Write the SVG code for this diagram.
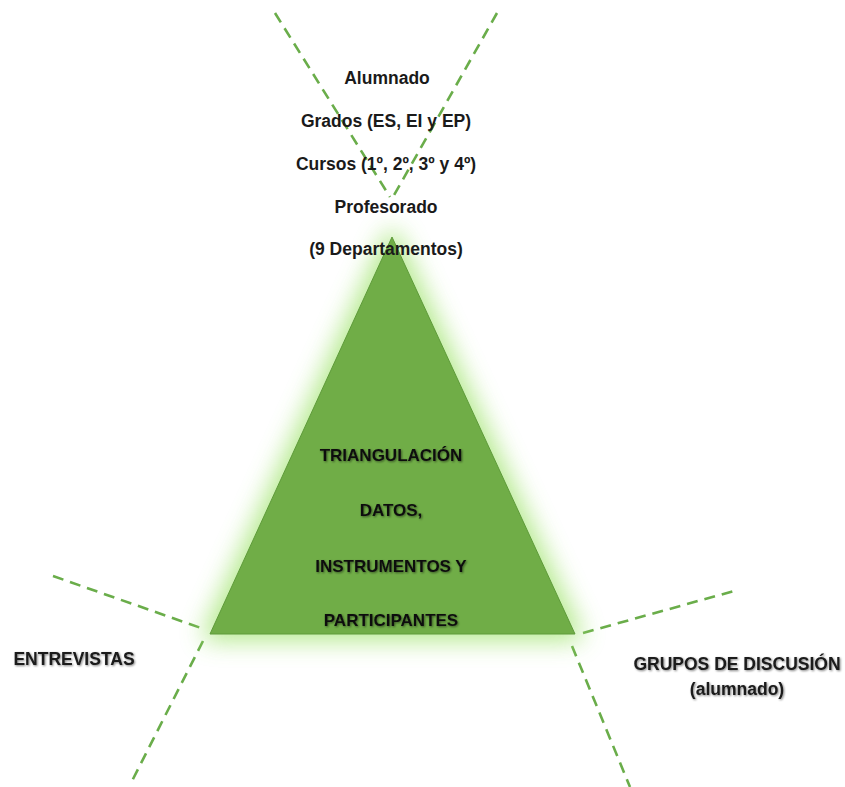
<svg xmlns="http://www.w3.org/2000/svg" width="845" height="787" viewBox="0 0 845 787">
<defs>
<filter id="glow" x="-30%" y="-30%" width="160%" height="160%">
<feGaussianBlur stdDeviation="12"/>
</filter>
<filter id="tshadow" x="-10%" y="-30%" width="120%" height="160%">
<feGaussianBlur in="SourceAlpha" stdDeviation="1.2" result="b"/>
<feOffset in="b" dx="1" dy="1" result="o"/>
<feComponentTransfer in="o" result="s"><feFuncA type="linear" slope="0.5"/></feComponentTransfer>
<feMerge><feMergeNode in="s"/><feMergeNode in="SourceGraphic"/></feMerge>
</filter>
</defs>
<style>
.dash{stroke:#6aad4a;stroke-width:2.6;stroke-dasharray:11 7;fill:none}
.t{font-family:"Liberation Sans",Arial,sans-serif;font-weight:bold;font-size:17.5px;fill:#1a1a1a;text-anchor:middle}
.tri{font-family:"Liberation Sans",Arial,sans-serif;font-weight:bold;font-size:17px;fill:#111;text-anchor:middle}
</style>
<rect width="845" height="787" fill="#ffffff"/>
<g id="connectors">
<line class="dash" x1="275" y1="13" x2="390" y2="197"/>
<line class="dash" x1="497" y1="13" x2="393" y2="197"/>
<line class="dash" x1="53" y1="576" x2="201" y2="628"/>
<line class="dash" x1="203" y1="641" x2="130" y2="785"/>
<line class="dash" x1="583" y1="633" x2="734" y2="591"/>
<line class="dash" x1="572" y1="646" x2="630" y2="787"/>
</g>
<g id="triangle">
<polygon points="392,237 210,634 575,634" fill="#a8e67a" stroke="#a8e67a" stroke-width="14" stroke-linejoin="round" filter="url(#glow)" opacity="0.85"/>
<polygon points="392,237 210,634 575,634" fill="#70ad47" stroke="#5e9a3a" stroke-width="1"/>
<g filter="url(#tshadow)">
<text class="tri" x="391" y="461">TRIANGULACIÓN</text>
<text class="tri" x="391" y="516">DATOS,</text>
<text class="tri" x="391" y="572">INSTRUMENTOS Y</text>
<text class="tri" x="391" y="626">PARTICIPANTES</text>
</g>
</g>
<g id="top-label">
<text class="t" x="387" y="84">Alumnado</text>
<text class="t" x="386" y="127">Grados (ES, EI y EP)</text>
<text class="t" x="386" y="170">Cursos (1º, 2º, 3º y 4º)</text>
<text class="t" x="386" y="213">Profesorado</text>
<text class="t" x="386" y="255">(9 Departamentos)</text>
</g>
<g id="entrevistas">
<text class="t" x="74" y="665" filter="url(#tshadow)">ENTREVISTAS</text>
</g>
<g id="grupos">
<text class="t" x="737" y="670" filter="url(#tshadow)">GRUPOS DE DISCUSIÓN</text>
<text class="t" x="737" y="695" filter="url(#tshadow)">(alumnado)</text>
</g>
</svg>
